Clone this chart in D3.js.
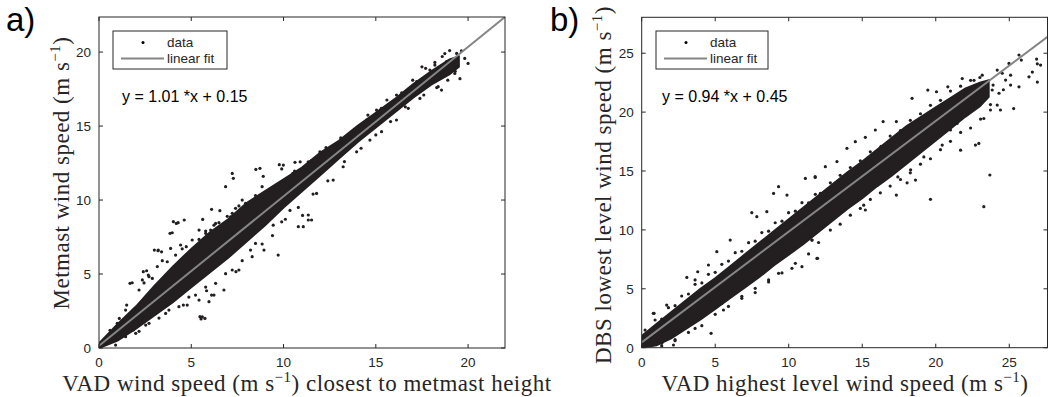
<!DOCTYPE html>
<html>
<head>
<meta charset="utf-8">
<script src="https://cdn.jsdelivr.net/npm/d3@7"></script>
<style>
  body { margin: 0; background: #fff; }
  svg { display: block; }
  .tick-label { font-family: "Liberation Sans", Arial, sans-serif; font-size: 13.5px; fill: #262626; }
  .axis-title { font-family: "Liberation Serif", "DejaVu Serif", serif; font-size: 23px; letter-spacing: 0.5px; fill: #262626; }
  .panel-tag { font-family: "Liberation Sans", Arial, sans-serif; font-size: 33px; fill: #000; }
  .legend-text { font-family: "Liberation Sans", Arial, sans-serif; font-size: 13.5px; fill: #262626; }
  .eq { font-family: "Liberation Sans", Arial, sans-serif; font-size: 16px; fill: #000; }
</style>
</head>
<body>
<div id="chart"></div>
<script>
const width = 1048, height = 397;

// panel a: VAD (closest to metmast height) vs metmast
const ticksA = [0, 5, 10, 15, 20];
const fitA = [1.01, 0.15];
const bandA_x  = [0, 1, 2, 3, 4, 5, 6, 7, 8, 9, 10, 11, 12, 13, 14, 15, 16, 17, 18, 19, 19.5];
const bandA_hi = [0.3, 1.6, 2.8, 4.2, 5.5, 6.7, 7.8, 8.7, 9.8, 10.6, 11.4, 12.2, 13.2, 14.0, 15.0, 15.9, 16.8, 17.8, 18.7, 19.5, 19.7];
const bandA_lo = [0.0, 0.5, 1.3, 2.2, 3.1, 4.1, 5.1, 6.1, 7.2, 8.3, 9.5, 10.6, 11.7, 12.8, 13.9, 14.9, 15.9, 16.9, 17.8, 18.5, 19.0];
const pointsA = [
  [7.22, 11.8], [7.28, 11.47], [8.5, 12.07], [9.77, 12.39], [10.62, 12.55], [11.03, 8.96],
  [11.34, 8.65], [10.8, 8.2], [9.71, 6.28], [7.42, 5.16], [5.47, 2.12], [5.53, 1.96],
  [4.57, 2.9], [6.1, 3.58], [5.83, 3.87], [4.03, 8.54], [4.29, 8.47], [4.62, 8.65],
  [3.85, 7.75], [3.0, 6.62], [3.2, 6.58], [2.4, 5.16], [1.68, 4.37], [1.86, 1.22],
  [1.32, 1.33], [5.62, 8.69], [6.1, 9.37], [6.55, 9.28], [7.76, 10.0], [8.2, 9.3],
  [6.86, 10.9], [4.19, 8.42], [3.97, 7.79], [3.21, 6.62], [3.39, 6.5], [3.88, 6.73],
  [4.42, 6.96], [2.58, 5.22], [2.67, 4.93], [2.35, 4.6], [1.8, 4.41], [1.44, 2.56],
  [0.99, 1.67], [1.99, 0.99], [2.53, 1.55], [3.61, 2.34], [4.78, 2.9], [5.42, 3.24],
  [5.96, 3.13], [5.6, 2.1], [5.74, 2.0], [6.23, 3.58], [6.77, 3.92], [7.58, 5.27],
  [8.21, 6.62], [8.48, 7.07], [8.94, 6.62], [7.94, 7.75], [5.42, 7.97], [5.78, 7.75],
  [6.32, 8.42], [7.13, 8.87], [7.4, 9.44], [7.94, 9.77], [8.48, 10.3], [8.84, 10.9],
  [8.72, 12.14], [8.9, 11.6], [9.99, 12.36], [9.9, 12.1], [10.9, 12.58], [11.34, 12.58],
  [10.5, 11.8], [11.97, 13.26], [12.15, 13.03], [13.59, 14.39], [14.57, 15.74], [15.04, 16.08],
  [15.6, 16.76], [16.12, 17.1], [17.21, 18.0], [17.93, 18.78], [18.2, 19.12], [18.83, 19.35],
  [19.38, 19.91], [19.64, 20.09], [19.82, 19.57], [20.0, 19.23], [19.56, 18.2], [19.28, 18.55],
  [18.56, 17.43], [18.38, 17.66], [17.39, 16.87], [16.76, 16.2], [16.12, 15.41], [15.31, 14.62],
  [14.68, 14.05], [13.96, 13.26], [13.23, 12.25], [12.69, 11.35], [11.79, 10.45], [11.34, 8.99],
  [11.52, 8.65], [11.07, 8.2], [9.9, 8.53], [10.35, 9.3], [9.44, 8.3], [18.74, 19.9],
  [19.0, 20.1], [19.2, 19.4], [19.4, 19.0], [18.2, 19.3], [17.5, 19.0],
  // ragged upper edge, low speeds
  [2.17, 3.92], [2.44, 4.4], [2.71, 4.82], [2.89, 4.7], [3.16, 5.5], [3.43, 5.9],
  [3.7, 5.83], [4.15, 6.28], [4.51, 6.7], [4.73, 6.85], [5.05, 7.3], [5.42, 7.34],
  [5.78, 7.9], [6.05, 7.97], [6.23, 8.3], [6.5, 8.47], [6.95, 8.9], [7.22, 9.1],
  [7.58, 9.6], [8.03, 9.55], [8.3, 9.9], [8.66, 10.0], [0.6, 1.2], [1.1, 2.0], [1.5, 2.9],
  // ragged lower edge, low speeds
  [1.44, 0.76], [2.17, 1.13], [2.71, 1.67], [3.25, 2.02], [3.79, 2.56], [4.33, 2.79],
  [4.87, 3.44], [5.23, 3.58], [5.78, 4.12], [6.32, 4.37], [6.86, 5.02], [7.22, 5.27],
  [7.76, 5.9], [8.3, 6.17], [8.84, 7.03], [9.4, 7.6], [10.1, 8.7], [0.9, 0.2],
  // edges, high speeds
  [10.6, 11.95], [11.5, 12.65], [12.3, 13.55], [13.1, 14.2], [13.8, 14.6], [14.5, 15.4],
  [15.3, 16.2], [16.4, 17.25], [17.0, 18.1], [17.7, 18.9], [18.6, 19.7],
  [10.8, 9.5], [11.6, 10.4], [12.4, 11.3], [13.3, 12.6], [14.2, 13.5], [15.0, 14.4],
  [15.8, 15.3], [16.6, 16.3], [17.6, 17.1], [18.3, 17.6], [18.9, 18.1], [19.3, 18.7]
];

// panel b: VAD highest level vs DBS lowest level
const ticksB = [0, 5, 10, 15, 20, 25];
const fitB = [0.94, 0.45];
const bandB_x  = [0, 1, 2, 3, 4, 5, 6, 7, 8, 9, 10, 11, 12, 13, 14, 15, 16, 17, 18, 19, 20, 21, 22, 23, 23.6];
const bandB_hi = [1.0, 2.0, 3.0, 4.0, 5.0, 5.9, 6.9, 7.9, 8.9, 9.9, 10.9, 11.9, 12.9, 13.9, 14.9, 15.8, 16.8, 17.8, 18.8, 19.6, 20.4, 21.2, 22.0, 22.5, 22.7];
const bandB_lo = [0.0, 0.2, 0.8, 1.6, 2.4, 3.3, 4.2, 5.1, 6.0, 7.0, 7.9, 8.8, 9.8, 10.8, 11.8, 12.7, 13.7, 14.6, 15.6, 16.6, 17.6, 18.6, 19.6, 20.5, 21.3];
const pointsB = [
  [0.79, 2.92], [1.7, 3.62], [0.84, 2.92], [3.07, 5.97], [3.63, 5.75], [3.81, 6.45],
  [4.54, 7.02], [5.11, 8.15], [6.02, 9.14], [7.49, 11.46], [7.83, 11.12], [8.51, 11.55],
  [8.97, 13.1], [9.31, 13.67], [9.88, 12.96], [11.13, 14.37], [11.8, 14.46], [11.92, 7.58],
  [10.9, 6.88], [10.22, 6.74], [9.31, 6.31], [8.63, 5.75], [7.72, 5.04], [6.81, 4.19],
  [5.45, 3.77], [5.56, 3.2], [4.72, 1.22], [3.63, 1.64], [2.27, 0.6], [2.16, 0.23],
  [1.36, 0.37], [0.45, 0.94], [0.23, 1.5], [0.11, 0.94], [11.35, 9.43], [11.58, 9.14],
  [11.96, 7.59], [15.21, 11.69], [15.1, 12.1], [17.32, 12.96], [18.05, 14.0], [18.62, 14.23],
  [19.64, 12.6], [21.69, 16.77], [22.7, 17.2], [22.93, 17.34], [23.27, 11.97], [23.68, 14.66],
  [24.4, 20.18], [25.3, 20.3], [25.66, 22.15], [26.34, 23.0], [26.57, 23.4], [26.91, 22.55],
  [26.86, 24.5], [27.13, 23.99], [26.91, 24.1], [25.66, 24.85], [25.82, 24.42], [24.98, 24.13],
  [25.09, 23.14], [24.52, 23.3], [24.75, 22.72], [24.18, 23.57], [25.09, 22.3], [23.84, 21.88],
  [23.16, 23.14], [22.6, 22.7], [21.8, 22.85], [20.82, 22.15], [20.05, 21.73], [19.46, 21.87],
  [18.39, 21.17], [17.32, 19.2], [16.42, 19.2], [15.89, 18.48], [15.21, 17.86], [14.53, 17.49],
  [13.96, 16.93], [13.28, 15.8], [12.49, 15.37], [11.8, 14.52], [17.42, 14.5], [18.29, 15.1],
  [19.19, 16.2], [20.44, 17.2], [21.0, 18.48], [21.45, 19.04], [23.27, 19.46], [23.72, 20.18],
  [22.13, 20.18], [12.83, 12.25], [12.6, 11.69], [11.69, 10.0], [11.58, 9.14],
  // ragged upper edge
  [0.91, 2.35], [1.36, 2.43], [1.82, 3.4], [2.27, 3.57], [2.72, 4.39], [3.18, 4.56],
  [3.63, 5.38], [4.09, 5.5], [4.54, 6.23], [5.0, 6.4], [5.45, 7.08], [5.9, 7.35],
  [6.36, 8.07], [6.81, 8.19], [7.27, 8.92], [7.72, 9.04], [8.17, 9.77], [8.63, 9.89],
  [9.08, 10.61], [9.54, 10.74], [9.99, 11.46], [10.45, 11.59], [10.9, 12.31], [11.35, 12.3],
  [11.81, 13.02], [12.15, 13.1], [12.83, 14.0], [13.5, 14.63], [14.19, 15.3], [14.87, 15.87],
  [15.55, 16.63], [16.28, 17.1], [16.9, 17.97], [17.6, 18.43], [18.27, 19.3], [18.96, 19.86],
  [19.64, 20.58], [20.32, 21.0], [21.0, 21.79], [21.69, 22.2], [22.37, 22.7], [23.0, 22.94],
  // ragged lower edge
  [1.36, 0.15], [2.27, 0.68], [3.18, 1.3], [4.09, 1.87], [5.0, 2.83], [5.9, 3.5],
  [6.81, 4.37], [7.72, 4.68], [8.63, 5.58], [9.54, 6.35], [10.45, 7.16], [11.35, 7.96],
  [12.03, 8.93], [12.83, 9.99], [13.5, 10.49], [14.19, 11.25], [14.87, 11.82], [15.55, 12.59],
  [16.23, 13.15], [16.9, 13.72], [17.6, 14.28], [18.27, 14.85], [18.96, 15.58], [19.64, 16.04],
  [20.32, 16.81], [21.0, 17.52], [21.69, 18.28], [22.37, 18.65], [23.05, 19.41], [23.72, 20.64],
  [24.18, 20.6], [24.3, 21.6], [23.9, 22.3], [24.6, 21.9]
];

const svg = d3.select("#chart").append("svg")
  .attr("width", width)
  .attr("height", height);

function drawPanel(p) {
  const x = d3.scaleLinear().domain(p.xDomain).range([p.left, p.right]);
  const y = d3.scaleLinear().domain(p.yDomain).range([p.bottom, p.top]);
  const g = svg.append("g");

  const clipId = "clip-" + p.tag;
  svg.append("clipPath").attr("id", clipId)
    .append("rect")
    .attr("x", p.left).attr("y", p.top)
    .attr("width", p.right - p.left).attr("height", p.bottom - p.top);

  const plot = g.append("g").attr("clip-path", `url(#${clipId})`);

  // dense core of the scatter
  const band = p.bandX.map((v, i) => ({ x: v, lo: p.bandLo[i], hi: p.bandHi[i] }));
  plot.append("path")
    .datum(band)
    .attr("d", d3.area().x(d => x(d.x)).y0(d => y(d.lo)).y1(d => y(d.hi)))
    .attr("fill", "#231f20")
    .attr("stroke", "#231f20")
    .attr("stroke-width", 2);

  plot.selectAll("circle.pt")
    .data(p.points)
    .join("circle")
    .attr("class", "pt")
    .attr("cx", d => x(d[0]))
    .attr("cy", d => y(d[1]))
    .attr("r", 1.6)
    .attr("fill", "#231f20");

  // linear fit
  plot.append("line")
    .attr("x1", x(p.xDomain[0])).attr("y1", y(p.fit[0] * p.xDomain[0] + p.fit[1]))
    .attr("x2", x(p.xDomain[1])).attr("y2", y(p.fit[0] * p.xDomain[1] + p.fit[1]))
    .attr("stroke", "#858585")
    .attr("stroke-width", 2);

  // box + inward ticks
  g.append("rect")
    .attr("x", p.left).attr("y", p.top)
    .attr("width", p.right - p.left).attr("height", p.bottom - p.top)
    .attr("fill", "none").attr("stroke", "#262626").attr("stroke-width", 1);

  const tl = 4;
  p.xTicks.forEach(t => {
    g.append("line").attr("x1", x(t)).attr("x2", x(t)).attr("y1", p.bottom).attr("y2", p.bottom - tl)
      .attr("stroke", "#262626");
    g.append("line").attr("x1", x(t)).attr("x2", x(t)).attr("y1", p.top).attr("y2", p.top + tl)
      .attr("stroke", "#262626");
    g.append("text").attr("class", "tick-label")
      .attr("x", x(t)).attr("y", p.bottom + 19)
      .attr("text-anchor", "middle").text(t);
  });
  p.yTicks.forEach(t => {
    g.append("line").attr("x1", p.left).attr("x2", p.left + tl).attr("y1", y(t)).attr("y2", y(t))
      .attr("stroke", "#262626");
    g.append("line").attr("x1", p.right).attr("x2", p.right - tl).attr("y1", y(t)).attr("y2", y(t))
      .attr("stroke", "#262626");
    g.append("text").attr("class", "tick-label")
      .attr("x", p.left - 8).attr("y", y(t) + 5)
      .attr("text-anchor", "end").text(t);
  });

  // legend
  const lg = g.append("g");
  lg.append("rect")
    .attr("x", p.legend[0]).attr("y", p.legend[1])
    .attr("width", p.legend[2]).attr("height", p.legend[3])
    .attr("fill", "#fff").attr("stroke", "#262626").attr("stroke-width", 1);
  const lx = p.legend[0], ly = p.legend[1];
  lg.append("circle").attr("cx", lx + 30).attr("cy", ly + 11.5).attr("r", 1.5).attr("fill", "#000");
  lg.append("text").attr("class", "legend-text").attr("x", lx + 54).attr("y", ly + 16).text("data");
  lg.append("line").attr("x1", lx + 8).attr("x2", lx + 51).attr("y1", ly + 27.5).attr("y2", ly + 27.5)
    .attr("stroke", "#858585").attr("stroke-width", 2);
  lg.append("text").attr("class", "legend-text").attr("x", lx + 54).attr("y", ly + 32).text("linear fit");

  g.append("text").attr("class", "eq")
    .attr("x", p.eq[0]).attr("y", p.eq[1])
    .text(`y = ${p.fit[0].toFixed(2)} *x + ${p.fit[1].toFixed(2)}`);

  // titles
  const xt = g.append("text").attr("class", "axis-title")
    .attr("x", p.xTitle[0]).attr("y", p.xTitle[1])
    .attr("text-anchor", "middle");
  addParts(xt, p.xTitleParts);

  const yt = g.append("text").attr("class", "axis-title")
    .attr("transform", `translate(${p.yTitle[0]},${p.yTitle[1]}) rotate(-90)`)
    .attr("text-anchor", "middle");
  addParts(yt, p.yTitleParts);

  g.append("text").attr("class", "panel-tag")
    .attr("x", p.tagPos[0]).attr("y", p.tagPos[1]).text(p.tag + ")");
}

// "(m s^-1)" with a raised exponent
function addParts(textSel, parts) {
  textSel.append("tspan").text(parts[0]);
  textSel.append("tspan").attr("dy", -9).attr("font-size", "15px").text("\u22121");
  textSel.append("tspan").attr("dy", 9).text(parts[1]);
}

drawPanel({
  tag: "a",
  left: 99, right: 505, top: 17, bottom: 348,
  xDomain: [0, 22], yDomain: [0, 22.37],
  xTicks: ticksA, yTicks: ticksA,
  bandX: bandA_x, bandLo: bandA_lo, bandHi: bandA_hi,
  points: pointsA, fit: fitA,
  legend: [113, 31, 114, 38],
  eq: [122, 102],
  xTitle: [307, 391],
  xTitleParts: ["VAD wind speed (m s", ") closest to metmast height"],
  yTitle: [69, 173],
  yTitleParts: ["Metmast wind speed (m s", ")"],
  tagPos: [6, 31]
});

drawPanel({
  tag: "b",
  left: 641.7, right: 1047.5, top: 17.3, bottom: 347.7,
  xDomain: [0, 27.6], yDomain: [0, 28.05],
  xTicks: ticksB, yTicks: ticksB,
  bandX: bandB_x, bandLo: bandB_lo, bandHi: bandB_hi,
  points: pointsB, fit: fitB,
  legend: [656, 31, 112, 38],
  eq: [662, 102],
  xTitle: [845, 391],
  xTitleParts: ["VAD highest level wind speed (m s", ")"],
  yTitle: [611, 185],
  yTitleParts: ["DBS lowest level wind speed (m s", ")"],
  tagPos: [550, 31]
});
</script>
</body>
</html>
